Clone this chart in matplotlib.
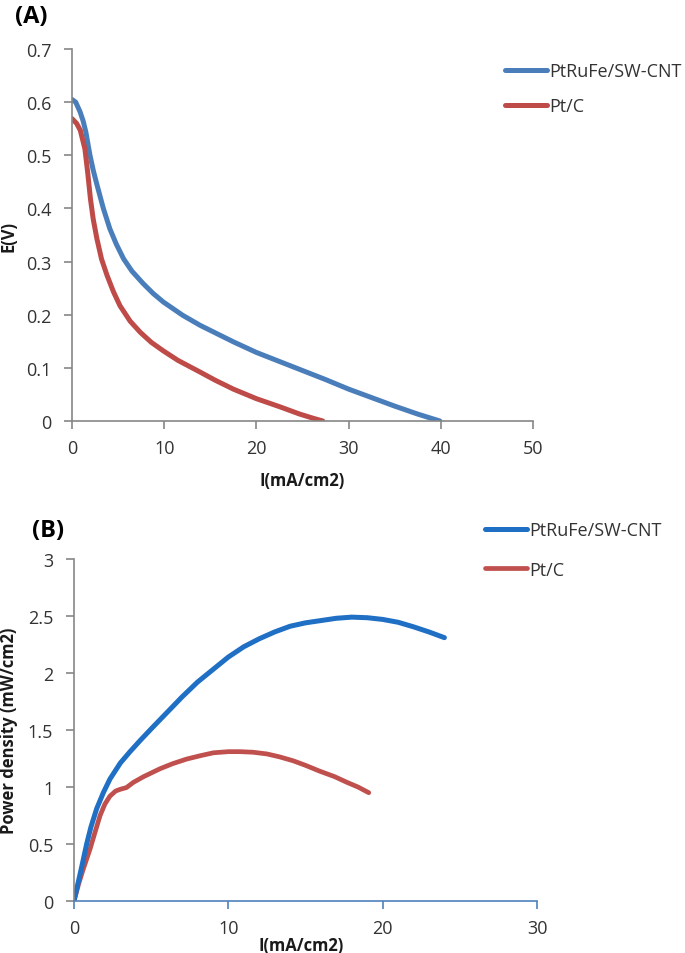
import matplotlib
matplotlib.use("Agg")
import matplotlib.pyplot as plt

plt.rcParams['font.family'] = ['Open Sans', 'DejaVu Sans']

# (A) polarization curves: E (V) vs I (mA/cm2)
i_ptrufe_a = [0, 0.4, 0.87, 1.2, 1.5, 1.95, 2.3, 2.7, 3.4, 4.1, 4.8, 5.6, 6.5, 7.7, 8.8, 9.9,
              12, 13.9, 17.5, 20, 22.5, 25, 27.5, 30, 32.5, 35, 37.5, 39.9]
e_ptrufe = [0.605, 0.600, 0.582, 0.565, 0.544, 0.500, 0.472, 0.445, 0.400, 0.362, 0.333,
            0.305, 0.282, 0.259, 0.240, 0.224, 0.199, 0.180, 0.149, 0.129, 0.112, 0.095,
            0.078, 0.060, 0.044, 0.028, 0.013, 0.0]

i_ptc_a = [0, 0.5, 0.9, 1.4, 1.7, 2.0, 2.3, 2.7, 3.2, 3.8, 4.5, 5.2, 6.3, 7.4, 8.6, 9.9,
           11.5, 13.9, 15.5, 17.5, 20, 22.5, 24.7, 26, 27.2]
e_ptc = [0.569, 0.560, 0.547, 0.512, 0.468, 0.418, 0.380, 0.343, 0.305, 0.274, 0.243,
         0.217, 0.188, 0.167, 0.148, 0.132, 0.114, 0.092, 0.077, 0.060, 0.042, 0.027,
         0.013, 0.006, 0.0]

# (B) power density curves: P (mW/cm2) vs I (mA/cm2)
i_ptrufe_b = [0, 0.2, 0.5, 0.82, 1.1, 1.47, 1.9, 2.33, 3.0, 3.63, 4.3, 5.0, 6.0, 7.0, 8.0,
              9.0, 10.0, 11.0, 12.0, 13.0, 14.0, 15.0, 16.0, 17.0, 18.0, 19.0, 20.0, 21.0,
              22.0, 23.0, 24.0]
p_ptrufe = [0, 0.12, 0.30, 0.50, 0.65, 0.81, 0.95, 1.07, 1.21, 1.31, 1.41, 1.51, 1.65,
            1.79, 1.92, 2.03, 2.14, 2.23, 2.30, 2.36, 2.41, 2.44, 2.46, 2.48, 2.49, 2.485,
            2.47, 2.445, 2.405, 2.36, 2.31]

i_ptc_b = [0, 0.3, 0.6, 1.04, 1.4, 1.69, 2.0, 2.33, 2.7, 3.0, 3.4, 3.84, 4.5, 5.57, 6.4,
           7.3, 8.2, 9.03, 10.0, 10.76, 11.6, 12.5, 13.3, 14.2, 15.0, 15.9, 16.9, 17.7,
           18.4, 19.1]
p_ptc = [0, 0.15, 0.28, 0.456, 0.62, 0.75, 0.85, 0.92, 0.965, 0.98, 0.995, 1.04, 1.09,
         1.16, 1.205, 1.245, 1.275, 1.30, 1.31, 1.31, 1.305, 1.29, 1.265, 1.23, 1.19, 1.14,
         1.09, 1.04, 1.00, 0.95]

labels = ['PtRuFe/SW-CNT', 'Pt/C']
xticks_a = [0, 10, 20, 30, 40, 50]
yticks_a = [0, 0.1, 0.2, 0.3, 0.4, 0.5, 0.6, 0.7]
xticks_b = [0, 10, 20, 30]
yticks_b = [0, 0.5, 1, 1.5, 2, 2.5, 3]

gray = '#868686'
txt = '#333333'

fig = plt.figure(figsize=(6.85, 9.54), dpi=100)
W, H = 685, 954

def px_axes(l, r, t, b):
    return fig.add_axes([l / W, 1 - b / H, (r - l) / W, (b - t) / H])

def style(ax, xcolor):
    for s in ('top', 'right'):
        ax.spines[s].set_visible(False)
    ax.spines['left'].set_color(gray)
    ax.spines['bottom'].set_color(xcolor)
    ax.spines['left'].set_linewidth(1.2)
    ax.spines['bottom'].set_linewidth(1.2)
    ax.tick_params(axis='y', direction='out', length=6, width=1.2, color=gray,
                   labelsize=13, labelcolor=txt, pad=9)
    ax.tick_params(axis='x', direction='out', length=6, width=1.2, color=xcolor,
                   labelsize=13, labelcolor=txt, pad=7)

# panel A
ax1 = px_axes(72, 533, 50, 422)
ax1.plot(i_ptrufe_a, e_ptrufe, color='#4A7EBB', lw=3.6, solid_capstyle='round', label=labels[0])
ax1.plot(i_ptc_a, e_ptc, color='#BE4B48', lw=3.6, solid_capstyle='round', label=labels[1])
ax1.set_xlim(0, 50)
ax1.set_ylim(0, 0.7)
ax1.set_xticks(xticks_a)
ax1.set_yticks(yticks_a)
ax1.set_yticklabels(['0' if v == 0 else f'{v:.1f}' for v in yticks_a])
style(ax1, gray)
ax1.set_xlabel('I(mA/cm2)', fontsize=12, fontweight='bold', color='#1a1a1a')
ax1.set_ylabel('E(V)', fontsize=12, fontweight='bold', color='#1a1a1a')
ax1.xaxis.set_label_coords(0.5, -0.134)
ax1.yaxis.set_label_coords(-0.119, 0.5)
ax1.legend(loc='upper left', bbox_to_anchor=(505 / W, 1 - 63 / H),
           bbox_transform=fig.transFigure, frameon=False, fontsize=13,
           handlelength=2.3, handletextpad=0.15, labelspacing=0.95,
           borderpad=0, borderaxespad=0, labelcolor=txt)

# panel B
ax2 = px_axes(74, 537, 560, 902)
ax2.plot(i_ptc_b, p_ptc, color='#C0504D', lw=3.4, solid_capstyle='round', label=labels[1])
ax2.plot(i_ptrufe_b, p_ptrufe, color='#1F6FC5', lw=3.6, solid_capstyle='round', label=labels[0])
ax2.set_xlim(0, 30)
ax2.set_ylim(0, 3)
ax2.set_xticks(xticks_b)
ax2.set_yticks(yticks_b)
ax2.set_yticklabels([f'{v:g}' for v in yticks_b])
style(ax2, '#4F81BD')
ax2.set_xlabel('I(mA/cm2)', fontsize=12, fontweight='bold', color='#1a1a1a')
ax2.set_ylabel('Power density (mW/cm2)', fontsize=12, fontweight='bold', color='#1a1a1a')
ax2.xaxis.set_label_coords(0.49, -0.102)
ax2.yaxis.set_label_coords(-0.121, 0.5)
h, l = ax2.get_legend_handles_labels()
ax2.legend(h[::-1], l[::-1], loc='upper left', bbox_to_anchor=(485 / W, 1 - 522 / H),
           bbox_transform=fig.transFigure, frameon=False, fontsize=13,
           handlelength=2.3, handletextpad=0.15, labelspacing=1.2,
           borderpad=0, borderaxespad=0, labelcolor=txt)

fig.text(15 / W, 1 - 17 / H, '(A)', fontsize=17, fontweight='bold', va='center', ha='left')
fig.text(32 / W, 1 - 531 / H, '(B)', fontsize=17, fontweight='bold', va='center', ha='left')

fig.savefig('out.png', dpi=100)
